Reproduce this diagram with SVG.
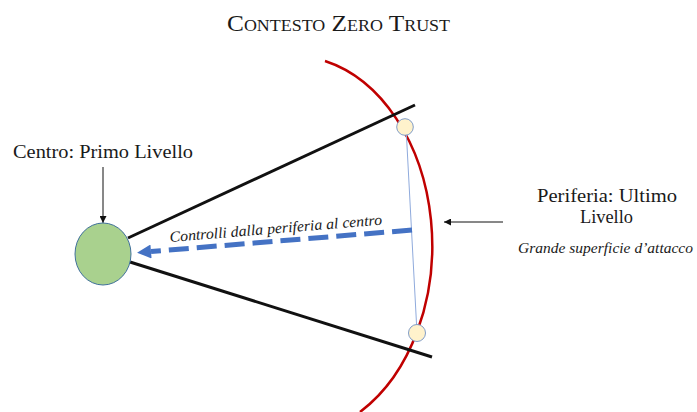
<svg xmlns="http://www.w3.org/2000/svg" width="697" height="412" viewBox="0 0 697 412">
<style>
.t{font-family:"Liberation Serif","DejaVu Serif",serif;fill:#1a1a1a}
.i{font-style:italic}
.title{font-family:"Liberation Serif","DejaVu Serif",serif;fill:#1a1a1a;font-variant:small-caps}
.ray{stroke:#111;stroke-width:3;fill:none}
.thin{stroke:#111;stroke-width:1;fill:none}
</style>
<defs>
<marker id="ah" viewBox="0 0 10 10" refX="10" refY="5" markerWidth="7" markerHeight="7" markerUnits="userSpaceOnUse" orient="auto">
<path d="M0,0 L10,5 L0,10 z" fill="#111"/>
</marker>
<marker id="bh" viewBox="0 0 10 10" refX="0" refY="5" markerWidth="18" markerHeight="14" markerUnits="userSpaceOnUse" orient="auto">
<path d="M0,0 L10,5 L0,10 z" fill="#4472c4"/>
</marker>
</defs>
<rect width="697" height="412" fill="#fff"/>
<text class="title" x="227" y="31" font-size="24" textLength="223" lengthAdjust="spacingAndGlyphs">Contesto Zero Trust</text>
<g id="periferia-arco">
<path d="M325,61 A140 190 0 0 1 360,412" stroke="#c00000" stroke-width="2.5" fill="none"/>
</g>
<g id="connectors">
<line class="ray" x1="128" y1="238" x2="415" y2="105"/>
<line class="ray" x1="130" y1="262" x2="432" y2="357"/>
<line x1="406" y1="127" x2="417" y2="333" stroke="#8faadc" stroke-width="1"/>
<line x1="412" y1="230" x2="151" y2="251.5" stroke="#4472c4" stroke-width="5" stroke-dasharray="20 8" marker-end="url(#bh)"/>
<line class="thin" x1="103" y1="167" x2="103" y2="223" marker-end="url(#ah)"/>
<line class="thin" x1="503" y1="222" x2="444" y2="222" marker-end="url(#ah)"/>
</g>
<g id="centro">
<ellipse cx="103" cy="254" rx="28" ry="31" fill="#a9d18e" stroke="#41719c" stroke-width="1"/>
</g>
<g id="nodo-alto">
<circle cx="405" cy="127" r="8.3" fill="#fff2cc" stroke="#7f9cc8" stroke-width="1"/>
</g>
<g id="nodo-basso">
<circle cx="417" cy="333" r="8.5" fill="#fff2cc" stroke="#7f9cc8" stroke-width="1"/>
</g>
<g id="labels">
<text class="t" x="13" y="158" font-size="18" textLength="180" lengthAdjust="spacingAndGlyphs">Centro: Primo Livello</text>
<text class="t i" font-size="15" transform="translate(170,242) rotate(-4.7)" textLength="213" lengthAdjust="spacingAndGlyphs">Controlli dalla periferia al centro</text>
<text class="t" x="537" y="202" font-size="18" textLength="140" lengthAdjust="spacingAndGlyphs">Periferia: Ultimo</text>
<text class="t" x="580" y="223" font-size="18" textLength="53" lengthAdjust="spacingAndGlyphs">Livello</text>
<text class="t i" x="518" y="253" font-size="14.5" textLength="175" lengthAdjust="spacingAndGlyphs">Grande superficie d’attacco</text>
</g>
</svg>
